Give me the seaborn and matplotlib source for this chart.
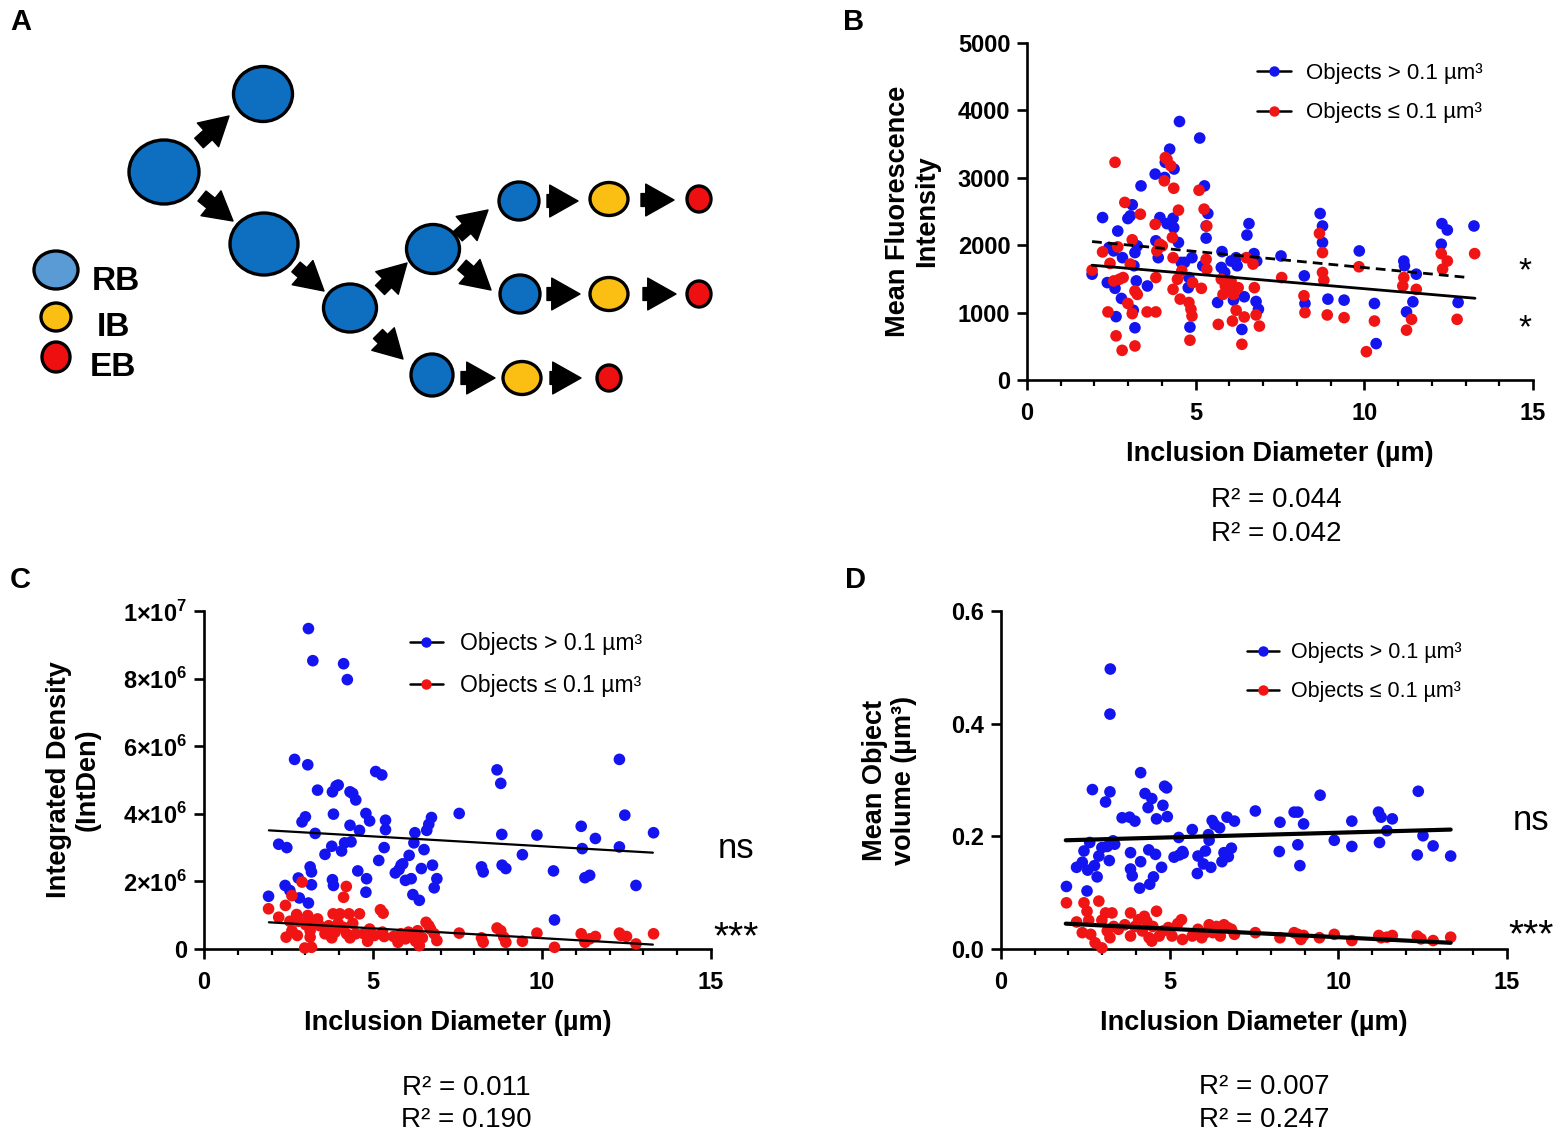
import numpy as np
import pandas as pd
import matplotlib
matplotlib.use('Agg')
import matplotlib.pyplot as plt
import seaborn as sns
from matplotlib.patches import Ellipse
from matplotlib.lines import Line2D
from matplotlib.ticker import MultipleLocator

W, H = 1562, 1137

# ---------------- panel A: developmental cycle diagram ----------------
# cell (x, y, width, height, type) in diagram pixel units
cells = [
    (164, 172, 70, 64, 'RB'), (263, 94, 59, 55, 'RB'), (264, 244, 68, 62, 'RB'),
    (350, 308, 53, 48, 'RB'), (433, 249, 53, 49, 'RB'), (432, 375, 42, 42, 'RB'),
    (519, 201, 40, 38, 'RB'), (609, 199, 38, 33, 'IB'), (699, 199, 24, 26, 'EB'),
    (520, 294, 40, 38, 'RB'), (609, 294, 38, 33, 'IB'), (699, 294, 24, 26, 'EB'),
    (522, 378, 38, 33, 'IB'), (609, 378, 24, 26, 'EB'),
]
# arrows (x_from, y_from, x_to, y_to)
arrows = [
    (199, 143, 229, 116), (202, 196, 233, 221), (296, 267, 324, 291),
    (380, 290, 407, 263), (378, 334, 403, 359), (458, 236, 488, 210),
    (462, 265, 491, 290), (547, 201, 578, 201), (641, 200, 674, 200),
    (547, 294, 580, 294), (643, 294, 676, 294), (461, 378, 495, 378),
    (550, 378, 581, 378),
]
key_types = ['RB', 'IB', 'EB']
key_cells = [(56, 270, 44, 38), (56, 317, 30, 28), (56, 357, 28, 30)]
key_text_pos = [(92, 281), (97, 328), (90, 367)]
cell_colors = {'RB': '#0e6ebf', 'IB': '#fbbf14', 'EB': '#ee1010'}
key_colors = {'RB': '#5b9bd5', 'IB': '#fbbf14', 'EB': '#ee1010'}

# ---------------- panel B: mean fluorescence intensity ----------------
b_big = [(1.93, 1570), (2.24, 2410), (2.69, 2210), (2.43, 1965), (2.57, 1915), (2.38, 1445),
         (2.61, 1360), (2.80, 1210), (2.64, 940), (2.83, 1815), (2.99, 2395), (3.12, 2600),
         (3.06, 2435), (3.27, 1990), (3.20, 1890), (3.17, 1695), (3.24, 1470), (3.20, 775),
         (3.15, 1035), (3.38, 2880), (3.57, 1395), (3.80, 3055), (3.82, 2065), (3.89, 1815),
         (3.94, 2410), (4.08, 3005), (4.10, 3230), (4.23, 3425), (4.36, 3130), (4.15, 2320),
         (4.33, 2400), (4.35, 2260), (4.49, 2040), (4.52, 3835), (4.57, 1745), (4.67, 1745),
         (4.78, 1370), (4.83, 785), (4.89, 1815), (4.80, 1520), (5.12, 3590), (5.26, 2880),
         (5.36, 2470), (5.31, 2285), (5.31, 2105), (5.21, 1695), (5.65, 1150), (5.78, 1905),
         (5.76, 1670), (5.86, 1595), (6.05, 1765), (6.12, 1185), (6.20, 1815), (6.23, 1695),
         (6.37, 750), (6.44, 1235), (6.52, 2150), (6.58, 2320), (6.73, 1875), (6.79, 1165),
         (6.86, 1050), (6.81, 1765), (7.53, 1840), (8.22, 1545), (8.24, 1135), (8.69, 2470),
         (8.76, 2285), (8.76, 2040), (8.92, 1200), (9.40, 1185), (9.85, 1915), (10.30, 1135),
         (10.35, 540), (11.17, 1765), (11.19, 1695), (11.25, 1010), (11.44, 1160), (11.54, 1570),
         (12.28, 2015), (12.30, 2320), (12.46, 2225), (12.78, 1150), (13.25, 2285)]
b_small = [(1.93, 1630), (2.24, 1900), (2.46, 1730), (2.40, 1010), (2.57, 1470), (2.64, 655),
           (2.61, 3230), (2.69, 1975), (2.74, 1495), (2.82, 440), (2.85, 1520), (2.90, 2635),
           (2.99, 1135), (3.12, 2080), (3.06, 1720), (3.12, 985), (3.20, 505), (3.20, 1320),
           (3.27, 1270), (3.36, 2460), (3.56, 1010), (3.82, 1010), (3.80, 2310), (3.82, 1520),
           (3.85, 1915), (3.94, 2015), (4.01, 1990), (4.10, 3300), (4.15, 3275), (4.07, 2955),
           (4.26, 3180), (4.35, 2845), (4.31, 2115), (4.33, 1815), (4.33, 1345), (4.49, 2520),
           (4.46, 1495), (4.54, 1200), (4.59, 1620), (4.80, 1150), (4.86, 1050), (4.89, 950),
           (4.83, 590), (4.91, 1445), (5.10, 2815), (5.17, 1360), (5.25, 2535), (5.33, 2285),
           (5.31, 1790), (5.33, 1645), (5.67, 825), (5.76, 1495), (5.81, 1270), (5.88, 1395),
           (5.97, 1345), (6.05, 1470), (6.09, 875), (6.12, 1270), (6.20, 1035), (6.26, 1370),
           (6.37, 530), (6.44, 935), (6.50, 1815), (6.70, 1720), (6.74, 1370), (6.79, 965),
           (6.89, 800), (7.55, 1520), (8.21, 1250), (8.24, 1000), (8.67, 2175), (8.76, 1890),
           (8.76, 1595), (8.80, 1480), (8.90, 965), (9.40, 925), (9.84, 1680), (10.30, 875),
           (10.06, 420), (11.17, 1520), (11.14, 1395), (11.25, 740), (11.40, 900), (11.54, 1345),
           (12.28, 1875), (12.32, 1645), (12.46, 1765), (12.75, 900), (13.27, 1875)]
b_fit_big = ([1.93, 13.28], [1703, 1213])
b_fit_small = ([1.93, 13.09], [2054, 1520])
b_r2 = ['0.044', '0.042']

# ---------------- panel C: integrated density (x 1e6) ----------------
c_big = [(1.91, 1.56), (2.21, 3.10), (2.45, 3.00), (2.40, 1.88), (2.54, 1.73), (2.68, 5.61),
         (2.82, 1.51), (2.79, 2.10), (2.90, 3.76), (3.00, 3.91), (3.07, 5.45), (3.09, 1.36),
         (3.18, 1.90), (3.14, 2.43), (3.18, 2.28), (3.09, 9.48), (3.22, 8.53), (3.29, 3.42),
         (3.36, 4.70), (3.58, 2.80), (3.78, 3.04), (3.80, 4.65), (3.83, 3.99), (3.80, 2.05),
         (3.83, 1.88), (3.91, 4.82), (3.97, 4.85), (4.07, 2.90), (4.13, 8.44), (4.24, 7.97),
         (4.16, 3.14), (4.32, 3.66), (4.32, 4.65), (4.35, 3.17), (4.40, 4.60), (4.49, 4.41),
         (4.55, 2.31), (4.60, 3.51), (4.79, 4.01), (4.81, 2.08), (4.79, 1.68), (4.90, 3.79),
         (5.08, 5.25), (5.26, 5.15), (5.17, 2.62), (5.33, 3.00), (5.37, 3.81), (5.37, 3.53),
         (5.66, 2.25), (5.77, 2.35), (5.83, 2.48), (5.88, 2.52), (5.96, 2.03), (6.07, 2.77),
         (6.13, 2.08), (6.18, 1.61), (6.24, 3.44), (6.21, 3.14), (6.37, 1.44), (6.43, 2.38),
         (6.51, 2.94), (6.59, 3.51), (6.65, 3.69), (6.73, 3.89), (6.76, 2.48), (6.81, 1.81),
         (6.89, 2.08), (7.55, 4.01), (8.21, 2.43), (8.26, 2.28), (8.67, 5.30), (8.78, 4.90),
         (8.81, 3.39), (8.82, 2.48), (8.93, 2.38), (9.42, 2.79), (9.85, 3.37), (10.34, 2.31),
         (10.37, 0.86), (11.16, 3.63), (11.19, 2.97), (11.27, 2.11), (11.41, 2.18), (11.58, 3.27),
         (12.29, 5.61), (12.29, 3.02), (12.45, 3.96), (12.78, 1.88), (13.30, 3.44)]
c_small = [(1.91, 1.19), (2.21, 0.94), (2.41, 1.29), (2.43, 0.35), (2.54, 0.82), (2.60, 1.58),
           (2.60, 0.54), (2.74, 1.02), (2.76, 0.40), (2.79, 0.82), (2.90, 1.98), (2.98, 0.03),
           (3.01, 0.72), (3.07, 0.99), (3.14, 0.35), (3.14, 0.54), (3.18, 0.05), (3.22, 0.79),
           (3.36, 0.89), (3.42, 0.69), (3.58, 0.45), (3.69, 0.69), (3.78, 0.33), (3.82, 1.04),
           (3.88, 0.50), (3.97, 0.76), (4.02, 1.04), (4.13, 1.53), (4.21, 1.85), (4.13, 0.64),
           (4.22, 0.45), (4.29, 1.04), (4.32, 0.33), (4.40, 0.76), (4.49, 0.45), (4.60, 1.04),
           (4.73, 0.45), (4.84, 0.23), (4.90, 0.59), (5.04, 0.40), (5.22, 1.16), (5.30, 1.06),
           (5.28, 0.50), (5.33, 0.37), (5.61, 0.37), (5.74, 0.20), (5.83, 0.45), (5.96, 0.30),
           (6.05, 0.50), (6.16, 0.37), (6.26, 0.23), (6.32, 0.54), (6.37, 0.10), (6.46, 0.33),
           (6.57, 0.79), (6.65, 0.69), (6.70, 0.59), (6.81, 0.45), (6.89, 0.25), (7.55, 0.47),
           (8.21, 0.33), (8.26, 0.20), (8.67, 0.62), (8.78, 0.54), (8.87, 0.35), (8.93, 0.20),
           (9.42, 0.23), (9.85, 0.47), (10.37, 0.05), (11.16, 0.45), (11.27, 0.20), (11.41, 0.30),
           (11.58, 0.37), (12.29, 0.47), (12.34, 0.40), (12.50, 0.37), (12.78, 0.15), (13.30, 0.45)]
c_fit_big = ([1.92, 13.28], [3.51, 2.85])
c_fit_small = ([1.92, 13.28], [0.79, 0.13])
c_r2 = ['0.011', '0.190']
c_yticks = [0, 2, 4, 6, 8, 10]
c_yticklabels = ['0', '2×10$^{\\mathbf{6}}$', '4×10$^{\\mathbf{6}}$', '6×10$^{\\mathbf{6}}$',
                 '8×10$^{\\mathbf{6}}$', '1×10$^{\\mathbf{7}}$']

# ---------------- panel D: mean object volume ----------------
d_big = [(1.94, 0.111), (2.24, 0.145), (2.41, 0.154), (2.46, 0.174), (2.55, 0.103), (2.57, 0.140),
         (2.63, 0.189), (2.71, 0.283), (2.77, 0.148), (2.85, 0.128), (2.90, 0.165), (2.99, 0.180),
         (3.10, 0.261), (3.15, 0.182), (3.21, 0.157), (3.23, 0.279), (3.23, 0.417), (3.24, 0.497),
         (3.32, 0.192), (3.37, 0.186), (3.59, 0.233), (3.81, 0.234), (3.84, 0.171), (3.84, 0.142),
         (3.89, 0.130), (3.97, 0.227), (4.14, 0.313), (4.11, 0.108), (4.14, 0.155), (4.27, 0.276),
         (4.36, 0.251), (4.38, 0.176), (4.41, 0.115), (4.52, 0.128), (4.47, 0.267), (4.61, 0.231),
         (4.58, 0.168), (4.76, 0.145), (4.80, 0.255), (4.85, 0.289), (4.91, 0.286), (4.93, 0.235),
         (5.13, 0.163), (5.27, 0.198), (5.29, 0.167), (5.38, 0.173), (5.40, 0.170), (5.67, 0.212),
         (5.82, 0.134), (5.84, 0.165), (6.00, 0.151), (6.06, 0.174), (6.15, 0.203), (6.17, 0.193),
         (6.22, 0.145), (6.26, 0.228), (6.33, 0.221), (6.48, 0.215), (6.55, 0.155), (6.61, 0.171),
         (6.70, 0.234), (6.74, 0.164), (6.83, 0.179), (6.92, 0.227), (7.54, 0.245), (8.25, 0.173),
         (8.27, 0.225), (8.69, 0.243), (8.80, 0.243), (8.80, 0.185), (8.86, 0.148), (8.97, 0.222),
         (9.46, 0.273), (9.88, 0.193), (10.40, 0.227), (10.40, 0.182), (11.19, 0.243), (11.22, 0.189),
         (11.27, 0.234), (11.44, 0.210), (11.60, 0.231), (12.37, 0.280), (12.34, 0.167), (12.51, 0.201),
         (12.81, 0.183), (13.33, 0.165)]
d_small = [(1.94, 0.082), (2.24, 0.048), (2.41, 0.029), (2.46, 0.082), (2.55, 0.067), (2.60, 0.051),
           (2.66, 0.026), (2.79, 0.011), (2.90, 0.085), (2.99, 0.002), (2.99, 0.051), (3.10, 0.064),
           (3.15, 0.032), (3.23, 0.020), (3.29, 0.064), (3.34, 0.040), (3.48, 0.035), (3.67, 0.043),
           (3.84, 0.064), (3.84, 0.023), (3.97, 0.040), (4.08, 0.052), (4.19, 0.032), (4.25, 0.058),
           (4.32, 0.049), (4.39, 0.020), (4.47, 0.014), (4.50, 0.040), (4.61, 0.067), (4.69, 0.023),
           (4.80, 0.032), (4.96, 0.038), (5.07, 0.023), (5.24, 0.045), (5.35, 0.052), (5.38, 0.017),
           (5.67, 0.023), (5.84, 0.035), (5.95, 0.020), (6.06, 0.029), (6.17, 0.043), (6.28, 0.029),
           (6.39, 0.040), (6.50, 0.023), (6.61, 0.043), (6.72, 0.038), (6.83, 0.035), (6.92, 0.026),
           (7.54, 0.029), (8.27, 0.020), (8.69, 0.029), (8.80, 0.026), (8.89, 0.017), (8.97, 0.024),
           (9.44, 0.020), (9.88, 0.026), (10.40, 0.015), (11.20, 0.024), (11.27, 0.020), (11.44, 0.021),
           (11.60, 0.024), (12.34, 0.023), (12.45, 0.018), (12.81, 0.015), (13.33, 0.021)]
d_fit_big = ([1.92, 13.33], [0.193, 0.212])
d_fit_small = ([1.92, 13.33], [0.045, 0.011])
d_r2 = ['0.007', '0.247']

legend_labels = ['Objects > 0.1 µm³', 'Objects ≤ 0.1 µm³']
BLUE = '#1414f0'
RED = '#f01414'

sns.set_style('ticks')
plt.rcParams['font.family'] = ['Liberation Sans', 'DejaVu Sans']
plt.rcParams['mathtext.fontset'] = 'custom'
plt.rcParams['mathtext.rm'] = 'Liberation Sans'
plt.rcParams['mathtext.bf'] = 'Liberation Sans:bold'
for key in ['text.color', 'axes.labelcolor', 'xtick.color', 'ytick.color', 'axes.edgecolor']:
    plt.rcParams[key] = 'black'

fig = plt.figure(figsize=(W / 100, H / 100), dpi=100)


def px_axes(l, t, r, b):
    return fig.add_axes([l / W, 1 - b / H, (r - l) / W, (b - t) / H])


def ftext(xp, yp, s, **kw):
    fig.text(xp / W, 1 - yp / H, s, **kw)


# ---- panel A ----
axA = px_axes(0, 0, 760, 430)
axA.set_xlim(0, 760)
axA.set_ylim(430, 0)
axA.axis('off')
for (x0, y0, x1, y1) in arrows:
    axA.annotate('', xy=(x1, y1), xytext=(x0, y0),
                 arrowprops=dict(arrowstyle='simple,head_length=0.55,head_width=0.62,tail_width=0.25',
                                 mutation_scale=37, color='black', shrinkA=0, shrinkB=0))
for (x, y, w, h, kind) in cells:
    axA.add_patch(Ellipse((x, y), w, h, facecolor=cell_colors[kind], edgecolor='black', lw=2.4, zorder=3))
for kind, (x, y, w, h), (tx, ty) in zip(key_types, key_cells, key_text_pos):
    axA.add_patch(Ellipse((x, y), w, h, facecolor=key_colors[kind], edgecolor='black', lw=2.4, zorder=3))
    axA.text(tx, ty, kind, fontsize=24, fontweight='bold', ha='left', va='center')


def scatter_panel(ax, big, small, fit_big, fit_small, ylim, big_style, small_style, fit_lw):
    df = pd.concat([
        pd.DataFrame(big, columns=['x', 'y']).assign(group='big'),
        pd.DataFrame(small, columns=['x', 'y']).assign(group='small'),
    ])
    sns.scatterplot(data=df, x='x', y='y', hue='group', palette={'big': BLUE, 'small': RED},
                    s=70, edgecolor='none', linewidth=0, legend=False, ax=ax, clip_on=False, zorder=3)
    ax.plot(fit_big[0], fit_big[1], color='black', lw=fit_lw, ls=big_style, zorder=4)
    ax.plot(fit_small[0], fit_small[1], color='black', lw=fit_lw, ls=small_style, zorder=4)
    ax.set_xlim(0, 15)
    ax.set_ylim(*ylim)
    ax.set_xticks([0, 5, 10, 15])
    ax.xaxis.set_minor_locator(MultipleLocator(1))
    sns.despine(ax=ax)
    for sp in ['left', 'bottom']:
        ax.spines[sp].set_linewidth(1.9)
    ax.tick_params(which='major', length=7, width=1.9, labelsize=17, pad=5)
    ax.tick_params(axis='x', which='major', pad=9)
    ax.tick_params(which='minor', length=4.5, width=1.6)
    for lab in ax.get_xticklabels() + ax.get_yticklabels():
        lab.set_fontweight('bold')
    ax.set_xlabel('Inclusion Diameter (µm)', fontsize=19.5, fontweight='bold')
    ax.xaxis.set_label_coords(0.5, -0.18)


def add_legend(ax, fx, fy, hl, pad, fs):
    handles = [Line2D([0], [0], color='black', lw=1.8, marker='o', markersize=6.5,
                      markerfacecolor=c, markeredgecolor=c) for c in (BLUE, RED)]
    ax.legend(handles, legend_labels, loc='upper left', bbox_to_anchor=(fx, fy), frameon=False,
              fontsize=fs, handlelength=hl, handletextpad=pad, labelspacing=0.85,
              borderpad=0, borderaxespad=0)


# ---- panel B ----
axB = px_axes(1027, 43, 1533, 380)
scatter_panel(axB, b_big, b_small, b_fit_big, b_fit_small, (0, 5000), '-', (0, (3.5, 2.2)), 2.0)
axB.set_yticks([0, 1000, 2000, 3000, 4000, 5000])
for lab in axB.get_yticklabels():
    lab.set_fontweight('bold')
axB.set_ylabel('Mean Fluorescence\nIntensity', fontsize=19.5, fontweight='bold', linespacing=1.15)
axB.yaxis.set_label_coords(-0.172, 0.5)
add_legend(axB, 0.455, 0.942, 1.5, 0.68, 16)

# ---- panel C ----
axC = px_axes(204, 611, 711, 949)
scatter_panel(axC, c_big, c_small, c_fit_big, c_fit_small, (0, 10), '-', '-', 1.6)
axC.set_yticks(c_yticks)
axC.set_yticklabels(c_yticklabels, fontweight='bold')
axC.set_ylabel('Integrated Density\n(IntDen)', fontsize=19.5, fontweight='bold', linespacing=1.15)
axC.yaxis.set_label_coords(-0.203, 0.5)
add_legend(axC, 0.406, 0.938, 1.45, 0.72, 16.5)

# ---- panel D ----
axD = px_axes(1001, 611, 1507, 949)
scatter_panel(axD, d_big, d_small, d_fit_big, d_fit_small, (0, 0.6), '-', '-', 3.0)
axD.set_yticks([0.0, 0.2, 0.4, 0.6])
axD.set_yticklabels(['0.0', '0.2', '0.4', '0.6'], fontweight='bold')
axD.set_ylabel('Mean Object\nvolume (µm³)', fontsize=19.5, fontweight='bold', linespacing=1.15)
axD.yaxis.set_label_coords(-0.166, 0.5)
add_legend(axD, 0.486, 0.908, 1.5, 0.55, 15.5)

# ---- significance marks ----
ftext(1525, 272, '*', fontsize=24, ha='center', va='center')
ftext(1525, 329, '*', fontsize=24, ha='center', va='center')
ftext(736, 848, 'ns', fontsize=25, ha='center', va='center')
ftext(736, 938, '***', fontsize=28, ha='center', va='center')
ftext(1531, 820, 'ns', fontsize=25, ha='center', va='center')
ftext(1531, 936, '***', fontsize=28, ha='center', va='center')

# ---- R squared ----
for (cx, ys, vals) in [(1276, (500, 534), b_r2), (466, (1088, 1120), c_r2), (1264, (1087, 1120), d_r2)]:
    for y, v in zip(ys, vals):
        ftext(cx, y, 'R² = ' + v, fontsize=20, ha='center', va='center')

# ---- panel letters ----
for letter, (x, y) in zip('ABCD', [(10, 22), (843, 22), (10, 580), (845, 580)]):
    ftext(x, y, letter, fontsize=21, fontweight='bold', ha='left', va='center')

fig.savefig('out.png', dpi=100)
